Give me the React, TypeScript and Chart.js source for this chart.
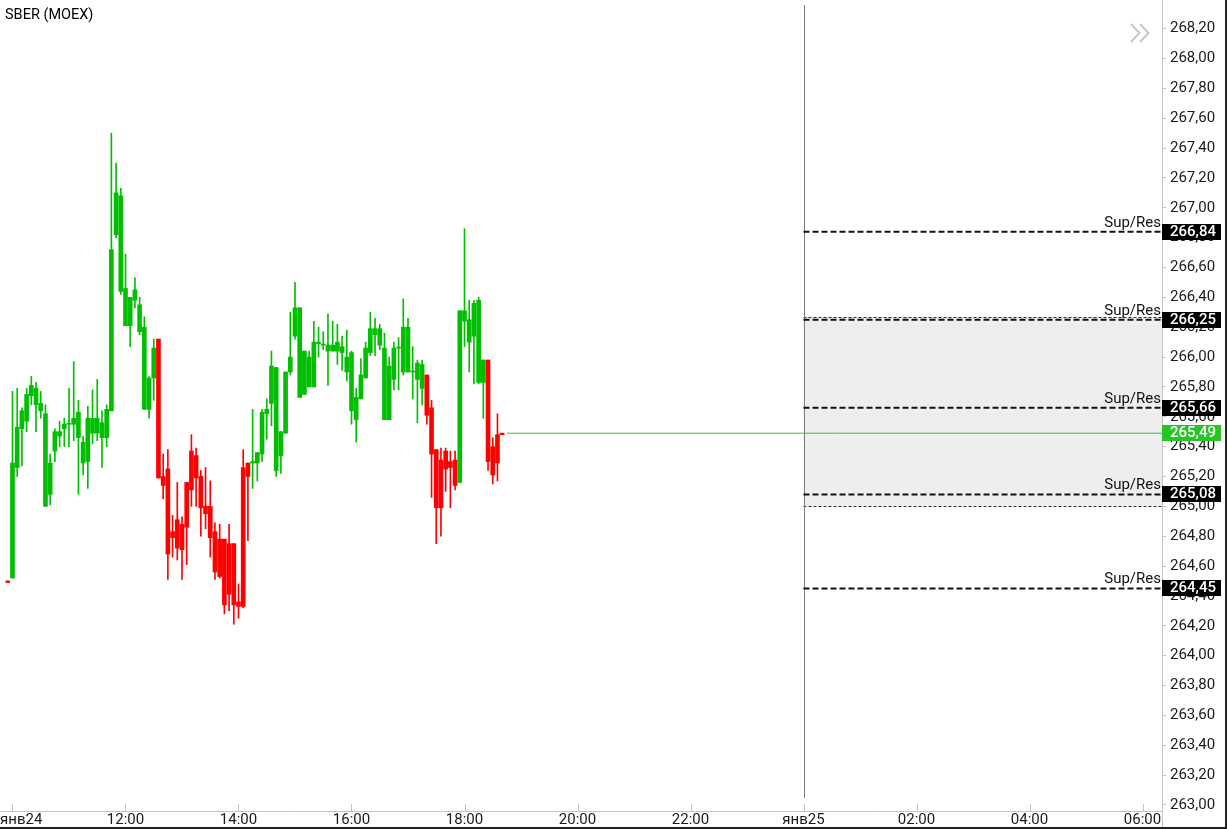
import React, { useEffect, useRef } from 'react';
import { Chart, registerables } from 'chart.js';

Chart.register(...registerables);

// ---- data (5-minute candles, SBER on MOEX, 24 Jan; first bar = 09:55 opening auction) ----
const title = 'SBER (MOEX)';
const BAR_MINUTES = 5;
const FIRST_BAR_OFFSET = -1; // bars counted from 10:00, first is one bar earlier

const opens = [
  264.50,
  264.52, 265.26, 265.52, 265.57, 265.74, 265.68, 265.64, 265.00, 265.08, 265.37,
  265.47, 265.52, 265.55, 265.55, 265.46, 265.29, 265.30, 265.49, 265.49, 265.46,
  265.46, 265.64, 266.82, 266.44, 266.21, 266.21, 266.38, 266.17, 265.65, 265.65,
  265.86, 266.12, 265.20, 265.25, 264.83, 264.91, 264.88, 265.16, 265.37, 265.34,
  265.20, 265.00, 265.00, 264.83, 264.78, 264.78, 264.75, 264.75, 264.36, 265.26,
  265.29, 265.29, 265.29, 265.35, 265.62, 265.69, 265.24, 265.34, 265.49, 265.90,
  266.14, 265.73, 265.75, 265.80, 265.80, 266.09, 266.08, 266.04, 266.04, 266.04,
  266.03, 265.90, 265.64, 265.58, 265.72, 265.86, 266.03, 266.15, 266.08, 265.58,
  265.58, 265.85, 266.06, 265.90, 265.90, 265.90, 265.85, 265.79, 265.88, 265.66,
  265.38, 265.31, 265.37, 265.30, 265.31, 265.16, 266.24, 266.10, 266.14, 265.83,
  265.83, 265.98, 265.40, 265.48, 265.49,
];
const highs = [
  264.50,
  265.77, 265.79, 265.66, 265.79, 265.87, 265.83, 265.77, 265.68, 265.35, 265.52,
  265.57, 265.59, 265.79, 265.97, 265.71, 265.47, 265.67, 265.78, 265.85, 265.64,
  265.68, 267.50, 267.30, 267.13, 266.69, 266.40, 266.53, 266.40, 266.27, 265.87,
  266.12, 266.12, 265.35, 265.38, 264.94, 265.16, 264.93, 265.16, 265.48, 265.39,
  265.24, 265.26, 265.17, 264.89, 264.88, 264.78, 264.88, 264.75, 264.48, 265.38,
  265.29, 265.65, 265.36, 265.65, 265.72, 266.04, 265.93, 265.50, 265.90, 266.30,
  266.50, 266.33, 266.04, 266.04, 266.24, 266.20, 266.17, 266.29, 266.24, 266.22,
  266.14, 266.18, 266.04, 265.79, 265.99, 266.10, 266.30, 266.26, 266.22, 266.16,
  266.00, 266.10, 266.13, 266.39, 266.26, 266.07, 265.98, 265.98, 265.88, 265.71,
  265.38, 265.39, 265.39, 265.37, 265.37, 266.31, 266.86, 266.38, 266.38, 266.40,
  265.98, 265.98, 265.46, 265.62, 265.49,
];
const lows = [
  264.49,
  264.52, 265.20, 265.27, 265.50, 265.68, 265.50, 265.59, 265.00, 265.01, 265.30,
  265.40, 265.40, 265.40, 265.44, 265.08, 265.21, 265.12, 265.42, 265.44, 265.26,
  265.40, 265.64, 266.80, 266.42, 266.21, 266.07, 266.33, 266.15, 265.65, 265.59,
  265.71, 265.19, 265.05, 264.51, 264.66, 264.64, 264.51, 264.61, 265.00, 265.00,
  264.80, 264.85, 264.66, 264.51, 264.52, 264.28, 264.30, 264.21, 264.25, 264.32,
  264.77, 265.12, 265.17, 265.30, 265.45, 265.54, 265.20, 265.22, 265.49, 265.88,
  266.12, 265.73, 265.75, 265.80, 265.80, 266.00, 266.05, 265.81, 266.04, 265.95,
  265.91, 265.84, 265.55, 265.43, 265.72, 265.86, 266.01, 266.01, 266.05, 265.58,
  265.58, 265.78, 265.78, 265.88, 265.90, 265.72, 265.56, 265.68, 265.55, 265.06,
  264.75, 264.80, 265.10, 264.99, 265.11, 265.16, 266.07, 265.90, 265.82, 265.82,
  265.59, 265.24, 265.15, 265.17, 265.48,
];
const closes = [
  264.49,
  265.29, 265.53, 265.64, 265.75, 265.81, 265.79, 265.69, 265.62, 265.29, 265.50,
  265.50, 265.55, 265.55, 265.59, 265.63, 265.43, 265.59, 265.59, 265.59, 265.56,
  265.65, 266.72, 267.10, 267.08, 266.46, 266.40, 266.45, 266.35, 266.20, 265.86,
  266.06, 265.19, 265.14, 264.68, 264.79, 264.72, 264.71, 264.86, 265.11, 265.19,
  264.99, 264.95, 264.79, 264.56, 264.53, 264.34, 264.41, 264.34, 264.33, 264.33,
  265.20, 265.30, 265.36, 265.63, 265.65, 265.94, 265.93, 265.50, 265.90, 266.00,
  266.33, 266.33, 266.04, 266.00, 266.10, 266.10, 266.08, 266.08, 266.08, 266.10,
  266.07, 266.00, 266.03, 265.73, 265.88, 266.06, 266.19, 266.19, 266.19, 266.06,
  265.94, 266.06, 266.06, 266.20, 266.20, 265.90, 265.96, 265.95, 265.61, 265.35,
  264.99, 264.99, 265.25, 265.26, 265.14, 266.31, 266.31, 266.25, 266.36, 266.38,
  265.98, 265.30, 265.21, 265.29, 265.48,
];

// x axis: minutes from 10:00 on 24 Jan
const xTickValues = [0, 120, 240, 360, 480, 600, 720, 840, 960, 1080, 1200];
const xTickLabels = ['янв24', '12:00', '14:00', '16:00', '18:00', '20:00', '22:00', 'янв25', '02:00', '04:00', '06:00'];
const dayBreak = 840; // midnight, 25 Jan

const yTickValues = [
  263.0, 263.2, 263.4, 263.6, 263.8, 264.0, 264.2, 264.4, 264.6, 264.8,
  265.0, 265.2, 265.4, 265.6, 265.8, 266.0, 266.2, 266.4, 266.6, 266.8,
  267.0, 267.2, 267.4, 267.6, 267.8, 268.0, 268.2,
];

const supResLevels = [266.84, 266.25, 265.66, 265.08, 264.45];
const supResLabel = 'Sup/Res';
const zoneHigh = 266.27;
const zoneLow = 265.0;
const lastPrice = 265.49;

// ---- styling ----
const X_MIN = -13.27;
const X_MAX = 1220.7;
const Y_MIN = 262.959;
const Y_MAX = 268.392;
const FONT = "Roboto, 'Open Sans', sans-serif";
const GREEN = '#00bf00';
const RED = '#ff0000';
const LINE_GREEN = '#3cbf3c';
const BOX_GREEN = '#24c524';
const AXIS_GRAY = '#c4c4c4';
const TEXT = '#1a1a1a';

const fmt = (v: number) => v.toFixed(2).replace('.', ',');

function drawBox(ctx: CanvasRenderingContext2D, left: number, py: number, text: string, color: string) {
  ctx.fillStyle = color;
  ctx.fillRect(left, Math.round(py) - 8, 59, 16);
  ctx.fillStyle = '#ffffff';
  ctx.font = `500 15px ${FONT}`;
  ctx.textAlign = 'left';
  ctx.textBaseline = 'middle';
  ctx.fillText(text, left + 8, Math.round(py) + 0.5);
}

const overlay = {
  id: 'overlay',
  beforeDatasetsDraw(chart: any) {
    const { ctx, chartArea: a, scales } = chart;
    const x = scales.x;
    const y = scales.y;
    const zx = x.getPixelForValue(dayBreak);
    const zt = y.getPixelForValue(zoneHigh);
    const zb = y.getPixelForValue(zoneLow);
    ctx.save();
    ctx.fillStyle = '#eeeeee';
    ctx.fillRect(zx, zt, a.right - zx, zb - zt);
    ctx.strokeStyle = '#333333';
    ctx.lineWidth = 1;
    ctx.setLineDash([3, 2]);
    ctx.beginPath();
    ctx.moveTo(zx, Math.round(zt) + 0.5);
    ctx.lineTo(a.right, Math.round(zt) + 0.5);
    ctx.moveTo(zx, Math.round(zb) + 0.5);
    ctx.lineTo(a.right, Math.round(zb) + 0.5);
    ctx.stroke();
    ctx.setLineDash([]);
    // day separator
    const sx = Math.round(zx) + 0.5;
    ctx.strokeStyle = '#7a7a7a';
    ctx.beginPath();
    ctx.moveTo(sx, a.top + 5);
    ctx.lineTo(sx, a.bottom - 13);
    ctx.stroke();
    // inner x ticks
    ctx.strokeStyle = AXIS_GRAY;
    ctx.beginPath();
    for (const v of xTickValues) {
      const px = Math.round(x.getPixelForValue(v)) + 0.5;
      ctx.moveTo(px, a.bottom - 7);
      ctx.lineTo(px, a.bottom);
    }
    ctx.stroke();
    ctx.restore();
  },
  afterDraw(chart: any) {
    const { ctx, chartArea: a, scales, height } = chart;
    const x = scales.x;
    const y = scales.y;
    ctx.save();
    // y axis line continues through the time axis
    ctx.strokeStyle = AXIS_GRAY;
    ctx.lineWidth = 1;
    ctx.beginPath();
    ctx.moveTo(Math.round(a.right) + 0.5, a.bottom);
    ctx.lineTo(Math.round(a.right) + 0.5, height);
    ctx.stroke();

    // time labels
    ctx.font = `15px ${FONT}`;
    ctx.fillStyle = TEXT;
    ctx.textBaseline = 'middle';
    ctx.textAlign = 'left';
    xTickValues.forEach((v, i) => {
      const label = xTickLabels[i];
      const w = ctx.measureText(label).width;
      let lx = x.getPixelForValue(v) - w / 2;
      lx = Math.max(0, Math.min(lx, a.right - w));
      ctx.fillText(label, lx, a.bottom + 9);
    });

    // support / resistance labels and price boxes
    supResLevels.forEach((lv) => {
      const py = y.getPixelForValue(lv);
      ctx.font = `15px ${FONT}`;
      ctx.fillStyle = '#111111';
      ctx.textAlign = 'right';
      ctx.textBaseline = 'alphabetic';
      ctx.fillText(supResLabel, a.right - 1, py - 5);
      drawBox(ctx, a.right, py, fmt(lv), '#000000');
    });
    drawBox(ctx, a.right, y.getPixelForValue(lastPrice), fmt(lastPrice), BOX_GREEN);

    // title
    ctx.font = `14.5px ${FONT}`;
    ctx.fillStyle = '#000000';
    ctx.textAlign = 'left';
    ctx.textBaseline = 'alphabetic';
    ctx.fillText(title, 5, 19);

    // collapse chevrons
    ctx.strokeStyle = '#c6c6c6';
    ctx.lineWidth = 2;
    ctx.beginPath();
    ctx.moveTo(1131, 24);
    ctx.lineTo(1139.5, 33);
    ctx.lineTo(1131, 42);
    ctx.moveTo(1140, 24);
    ctx.lineTo(1148.5, 33);
    ctx.lineTo(1140, 42);
    ctx.stroke();
    ctx.restore();
  },
};

export default function App() {
  const ref = useRef<HTMLCanvasElement>(null);

  useEffect(() => {
    const canvas = ref.current;
    if (!canvas) return;
    const times = opens.map((_, i) => (i + FIRST_BAR_OFFSET) * BAR_MINUTES);
    const colors = opens.map((o, i) => (closes[i] >= o ? GREEN : RED));
    const wickData = times.map((t, i) => ({ x: t, y: [lows[i], highs[i]] }));
    const bodyData = times.map((t, i) => ({
      x: t,
      y: [Math.min(opens[i], closes[i]), Math.max(opens[i], closes[i])],
    }));
    const lastTime = times[times.length - 1];

    const datasets: any[] = [
      {
        type: 'bar',
        data: wickData,
        backgroundColor: colors,
        borderWidth: 0,
        barThickness: 1,
        grouped: false,
        minBarLength: 1,
        order: 3,
      },
      {
        type: 'bar',
        data: bodyData,
        backgroundColor: colors,
        borderWidth: 0,
        barThickness: 4,
        grouped: false,
        minBarLength: 1,
        order: 2,
      },
      ...supResLevels.map((lv) => ({
        type: 'line',
        data: [
          { x: dayBreak, y: lv },
          { x: X_MAX, y: lv },
        ],
        borderColor: '#111111',
        borderWidth: 2,
        borderDash: [6, 3],
        pointRadius: 0,
        order: 1,
      })),
      {
        type: 'line',
        data: [
          { x: lastTime + BAR_MINUTES, y: lastPrice },
          { x: X_MAX, y: lastPrice },
        ],
        borderColor: LINE_GREEN,
        borderWidth: 1,
        pointRadius: 0,
        order: 0,
      },
    ];

    const chart = new Chart(canvas, {
      type: 'bar',
      data: { datasets },
      options: {
        responsive: false,
        animation: false,
        devicePixelRatio: 1,
        events: [],
        layout: { padding: 0 },
        plugins: {
          legend: { display: false },
          tooltip: { enabled: false },
        },
        scales: {
          x: {
            type: 'linear',
            position: 'bottom',
            min: X_MIN,
            max: X_MAX,
            offset: false,
            grid: { display: false },
            border: { display: true, color: AXIS_GRAY },
            ticks: { display: false },
            afterBuildTicks: (s: any) => {
              s.ticks = xTickValues.map((v) => ({ value: v }));
            },
            afterFit: (s: any) => {
              s.height = 16;
              s.paddingLeft = 0;
              s.paddingRight = 0;
            },
          },
          y: {
            type: 'linear',
            position: 'right',
            min: Y_MIN,
            max: Y_MAX,
            beginAtZero: false,
            grid: { drawOnChartArea: false, drawTicks: true, tickLength: 4, color: AXIS_GRAY },
            border: { display: true, color: AXIS_GRAY },
            ticks: {
              color: TEXT,
              font: { family: FONT, size: 15 },
              padding: 4,
              autoSkip: false,
              callback: (v: any) => fmt(Number(v)),
            },
            afterBuildTicks: (s: any) => {
              s.ticks = yTickValues.map((v) => ({ value: v }));
            },
            afterFit: (s: any) => {
              s.width = 63;
              s.paddingTop = 0;
              s.paddingBottom = 0;
            },
          },
        },
      } as any,
      plugins: [overlay],
    });

    return () => chart.destroy();
  }, []);

  return (
    <div
      style={{
        position: 'absolute',
        left: 0,
        top: 0,
        width: 1225,
        height: 827,
        borderRight: '2px solid #222',
        borderBottom: '2px solid #222',
        background: '#ffffff',
      }}
    >
      <canvas ref={ref} width={1225} height={827} style={{ display: 'block', width: 1225, height: 827 }} />
    </div>
  );
}
